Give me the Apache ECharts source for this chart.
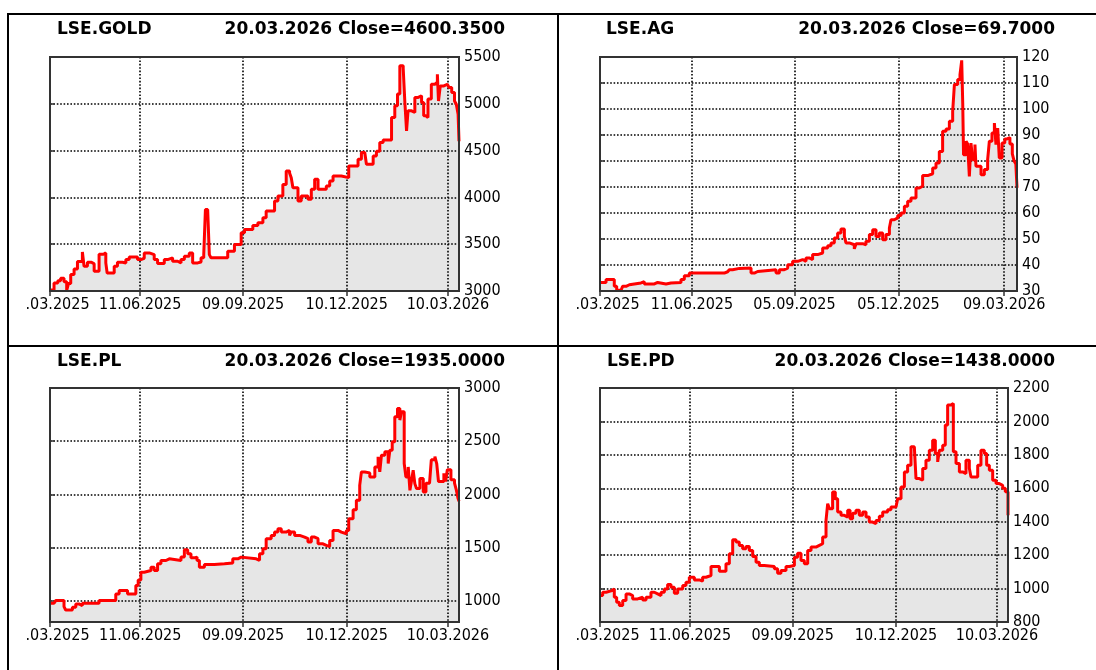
<!DOCTYPE html>
<html>
<head>
<meta charset="utf-8">
<script src="https://cdn.jsdelivr.net/npm/echarts@6/dist/echarts.min.js"></script>
<style>
html,body{margin:0;padding:0;background:#fff;}
#chart{width:1096px;height:670px;}
</style>
</head>
<body>
<div id="chart"></div>
<script>
// t = position on the time axis, 0 = 20.03.2025 ... 365 = 20.03.2026
let goldT = [0,3.6,7,9.5,12.5,14.9,16.5,18.5,21.5,24.5,28.9,30.4,33.4,37,39.4,43.8,47.7,49.8,51,57.3,60.2,64.7,67.7,70.7,78.1,81.1,84.1,88.6,93,96,102,105,109.4,113.9,116.9,119.9,124.3,127.3,131.8,134.8,137.2,138.7,140.7,142.2,143.7,158.6,164.6,170.6,173.6,181,185.5,190,192.9,200.4,203.4,207.8,210.8,213.8,215.3,216.8,221.3,224.2,230.2,233.2,236.2,239.2,246.6,249.6,252.6,260,266.6,274.9,277.9,280.9,282.4,288.4,291.3,294.3,297.3,304.8,307.7,310.1,312.2,315.2,316.7,318.2,319.5,322.7,325.6,328.6,331.6,333.5,335.5,337.3,340.3,343.5,345.7,346.7,348.3,351.5,354.6,356.2,358.5,361,362.6,364.2,365];
let goldV = [3010,3086,3110,3135,3100,3007,3080,3175,3235,3314,3418,3264,3307,3290,3210,3393,3407,3300,3193,3264,3307,3300,3336,3364,3336,3350,3407,3389,3336,3293,3336,3354,3318,3300,3336,3371,3407,3300,3310,3354,3389,3871,3860,3389,3354,3425,3496,3621,3657,3700,3729,3782,3854,3961,4014,4139,4282,4260,4211,4104,3961,4014,3979,4086,4193,4086,4121,4175,4229,4211,4336,4407,4479,4460,4354,4443,4493,4586,4614,4854,4979,5104,5407,5380,5014,4711,4925,4907,5068,5086,5014,4871,4854,5050,5209,5230,5315,5030,5191,5209,5227,5173,5120,5030,4996,4889,4600.35];

let agT = [0,5.3,12.5,14.6,18.4,19.8,22.8,25.7,35.9,38.8,47.6,50.5,57.8,62.1,70.9,73.8,78.2,108.8,111.7,113.2,116.1,122,132.2,135.1,138,154.1,157,161.3,164.3,168.6,173,177.4,180.3,183.2,186.1,190.5,194.9,199.3,202.2,205.1,208,210.9,213.9,215.3,218.2,222.6,224.1,229.9,232.8,235.8,238.7,241.6,244.5,247.4,250.3,253.3,254.7,257.6,260.6,263.5,266.4,269.3,272.2,276.6,279.5,282.4,286.8,291.2,294.1,297,299.9,302.9,305.8,308.7,310.2,313.1,315.1,316.6,317.5,318.2,320.4,321.8,323.3,324.7,326.2,328.2,329.1,333.5,336.4,339.3,340.8,343.1,345.2,346.6,348.1,349.5,351.9,354.3,356.3,358.8,360.9,362.4,364,365];
let agV = [33.3,34.4,31.8,30.3,30.3,31.8,32.4,33.1,33.6,32.7,33.3,32.7,33.1,33.3,34.4,35.9,36.9,37.4,36.9,38.2,38.7,38.8,36.9,37.5,38.2,36.9,38.2,38.8,40.1,41.4,42.1,41.4,42.7,42.1,44,44.6,46.5,47.4,48.5,50.4,52.3,53.8,51,48.5,47.8,46.2,48.2,47.8,49.1,51.7,53.6,51,52.3,49.7,51.7,54.2,57.4,58.1,59,60,62.6,64.5,65.8,69.6,70.3,74.4,75.1,77.3,79.2,83.7,91.4,92.3,95.3,99.1,109.4,111.3,113.2,118.7,102.3,82.4,87.6,86.5,74.1,86.9,80.5,86.3,78,74.7,76.7,80.5,87.6,90.8,94.6,86.3,92.7,81.2,86.9,88.5,89,86.5,82.7,80.1,78.8,69.7];

let plT = [0,3.6,5.1,12.5,14,20,23,25.9,28.9,43.8,58.7,61.7,69.2,76.6,78.7,81.1,84.1,90.1,93,96,99,103.5,106.5,116.9,119.9,122.9,125.8,128.8,131.2,133.3,137.8,146.7,155.7,163.1,167.6,170.6,184,187,190,192.9,197.4,200.4,203.4,206.4,210.8,213.8,215.3,218.3,222.8,227.2,230.2,233.2,236.2,239.2,243.6,246.6,249.6,252.6,257,260,264.5,266.6,270.5,273.4,276.4,277.9,280.9,285.4,289.9,292.8,294.3,295.8,298.8,301.8,303.3,305.4,307.7,310.1,312.2,313.7,316.1,317.6,319.7,321.2,322.7,324.1,325.6,327.1,330.1,333.1,335.5,338.7,340.3,343.5,345.1,346.7,351.5,353,354.6,357.8,361,362.6,364.2,365];
let plV = [976,976,1001,945,913,938,970,954,976,1001,1064,1095,1064,1143,1196,1268,1284,1315,1284,1347,1378,1394,1378,1410,1479,1441,1403,1410,1378,1315,1341,1347,1355,1394,1410,1394,1380,1441,1488,1583,1614,1645,1677,1645,1661,1614,1645,1614,1598,1583,1551,1598,1583,1535,1520,1510,1567,1661,1645,1630,1661,1771,1856,1944,2085,2211,2202,2164,2258,2353,2211,2368,2400,2290,2415,2494,2730,2808,2698,2777,2290,2164,2258,2038,2133,2227,2101,2054,2148,2023,2105,2121,2325,2356,2290,2121,2199,2121,2231,2137,2105,2042,1960,1935];

let pdT = [0,2.4,5.4,10.7,12.8,14.9,17.3,20.3,23.3,26.2,29.2,33.7,38.2,41.2,45.6,48.6,51.6,54.6,57.6,60.5,63.5,66.5,69.5,74,76.9,79.9,84.4,88.9,91.8,94.8,99.3,106.8,112.7,115.7,118.7,121.7,124.6,127.6,130.6,133.6,136.6,139.6,142.5,147,156,158.9,161.9,166.4,169.4,173.9,176.8,179.8,182.8,185.8,188.8,193.2,196.2,199.2,202.2,203.7,205.2,208.1,210.5,212.6,215.6,218.6,221.6,223.7,226,229,232,235,238,240.9,243.9,246.9,249.9,252.9,257.3,260.3,264.8,266.3,269.3,272.3,275.2,278.2,281.2,282.7,285.7,288.7,291.6,294.6,297.6,300,302.1,303.6,306.6,308.9,311,314,316.1,318.5,321.5,324.4,327.4,330.4,331.9,337.9,340.8,343.8,345.9,348.3,351.3,354.3,357.2,360.2,362.6,365];
let pdV = [958,978,988,998,948,918,898,928,968,958,938,948,932,948,978,968,958,978,998,1024,1008,972,998,1018,1038,1068,1052,1044,1068,1078,1132,1104,1148,1208,1292,1278,1258,1238,1252,1228,1192,1158,1138,1132,1118,1092,1108,1132,1138,1188,1212,1168,1148,1228,1248,1258,1268,1308,1408,1508,1478,1578,1538,1458,1438,1428,1468,1418,1450,1468,1438,1458,1428,1398,1388,1408,1432,1458,1472,1488,1498,1538,1608,1698,1738,1848,1838,1658,1648,1718,1768,1828,1888,1808,1758,1828,1858,1978,2098,2108,1818,1748,1698,1688,1768,1720,1668,1738,1828,1808,1738,1708,1648,1628,1618,1600,1580,1438];

// date ticks
let ticksA = [0, 80.5, 172.3, 264.8, 355.1];
let labelsA = ['.03.2025', '11.06.2025', '09.09.2025', '10.12.2025', '10.03.2026'];
let ticksAg = [0, 80.5, 170.2, 261.3, 353.7];
let labelsAg = ['.03.2025', '11.06.2025', '05.09.2025', '05.12.2025', '09.03.2026'];
let plYTicks = [1000, 1500, 2000, 2500, 3000];

let FONT = "'DejaVu Sans Condensed', 'DejaVu Sans', sans-serif";
let BOLD = "'DejaVu Sans', sans-serif";

let panels = [
    {name: 'LSE.GOLD', info: '20.03.2026 Close=4600.3500', t: goldT, v: goldV, ymin: 3000, ymax: 5500, yint: 500,
        ticks: ticksA, labels: labelsA, box: [50, 57, 409, 234], tl: 57, tr: 505, ty: 20},
    {name: 'LSE.AG', info: '20.03.2026 Close=69.7000', t: agT, v: agV, ymin: 30, ymax: 120, yint: 10,
        ticks: ticksAg, labels: labelsAg, box: [600, 57, 417, 234], tl: 606, tr: 1055, ty: 20},
    {name: 'LSE.PL', info: '20.03.2026 Close=1935.0000', t: plT, v: plV, ymin: 800, ymax: 3000, ycustom: plYTicks,
        ticks: ticksA, labels: labelsA, box: [50, 388, 409, 234], tl: 57, tr: 505, ty: 352},
    {name: 'LSE.PD', info: '20.03.2026 Close=1438.0000', t: pdT, v: pdV, ymin: 800, ymax: 2200, yint: 200,
        ticks: ticksA, labels: labelsA, box: [600, 388, 408, 234], tl: 607, tr: 1055, ty: 352}
];

let dotted = {color: '#000', width: 1.6, type: [1.6, 1.8]};

let option = {
    animation: false,
    backgroundColor: '#fff',
    title: [], grid: [], xAxis: [], yAxis: [], series: [],
    graphic: [
        {type: 'rect', shape: {x: 7, y: 13, width: 1089, height: 2}, style: {fill: '#000'}},
        {type: 'rect', shape: {x: 7, y: 13, width: 2, height: 657}, style: {fill: '#000'}},
        {type: 'rect', shape: {x: 557, y: 13, width: 2, height: 657}, style: {fill: '#000'}},
        {type: 'rect', shape: {x: 7, y: 345, width: 1089, height: 2}, style: {fill: '#000'}}
    ]
};

panels.forEach(function (p, i) {
    option.title.push({
        text: p.name, left: p.tl, top: p.ty, padding: 0,
        textStyle: {fontFamily: BOLD, fontSize: 17, fontWeight: 'bold', color: '#000', lineHeight: 20}
    });
    option.title.push({
        text: p.info, right: 1096 - p.tr, top: p.ty, padding: 0,
        textStyle: {fontFamily: BOLD, fontSize: 17, fontWeight: 'bold', color: '#000', lineHeight: 20}
    });
    option.grid.push({
        left: p.box[0], top: p.box[1], width: p.box[2], height: p.box[3],
        show: true, z: 10, backgroundColor: 'transparent', borderColor: '#333', borderWidth: 2
    });
    option.xAxis.push({
        gridIndex: i, type: 'value', min: 0, max: 365, z: 3,
        axisLine: {show: false},
        axisTick: {show: true, length: 5, customValues: p.ticks, lineStyle: {color: '#333', width: 1.5}},
        axisLabel: {
            customValues: p.ticks, margin: 6, color: '#000', fontFamily: FONT, fontSize: 16,
            formatter: function (val) {
                let k = p.ticks.findIndex(function (x) { return Math.abs(x - val) < 0.01; });
                if (k < 0) return '';
                return k === 0 ? '{cut|' + p.labels[0] + '}' : p.labels[k];
            },
            rich: {cut: {fontFamily: FONT, fontSize: 16, color: '#000', padding: [0, 0, 0, 15]}}
        },
        splitLine: {show: true, lineStyle: dotted}
    });
    let y = {
        gridIndex: i, type: 'value', position: 'right', min: p.ymin, max: p.ymax, z: 3,
        axisLine: {show: false},
        axisTick: {show: true, length: 4, lineStyle: {color: '#333', width: 1.5}},
        axisLabel: {margin: 5, color: '#000', fontFamily: FONT, fontSize: 16,
            formatter: function (val) { return String(val); }},
        splitLine: {show: true, lineStyle: dotted}
    };
    if (p.ycustom) {
        y.axisTick.customValues = p.ycustom;
        y.axisLabel.customValues = p.ycustom;
    } else {
        y.interval = p.yint;
    }
    option.yAxis.push(y);
    let pts = p.t.map(function (x, k) { return [x, p.v[k]]; });
    // fill under the curve, kept below the grid lines
    option.series.push({
        type: 'line', xAxisIndex: i, yAxisIndex: i, data: pts, step: 'end', symbol: 'none', z: 1,
        silent: true, lineStyle: {width: 0}, areaStyle: {color: '#e6e6e6', opacity: 1, origin: 'start'}
    });
    option.series.push({
        type: 'line', xAxisIndex: i, yAxisIndex: i, data: pts, step: 'end', symbol: 'none', z: 5,
        silent: true, lineStyle: {color: '#ff0000', width: 3}
    });
});

let chart = echarts.init(document.getElementById('chart'));
chart.setOption(option);
</script>
</body>
</html>
